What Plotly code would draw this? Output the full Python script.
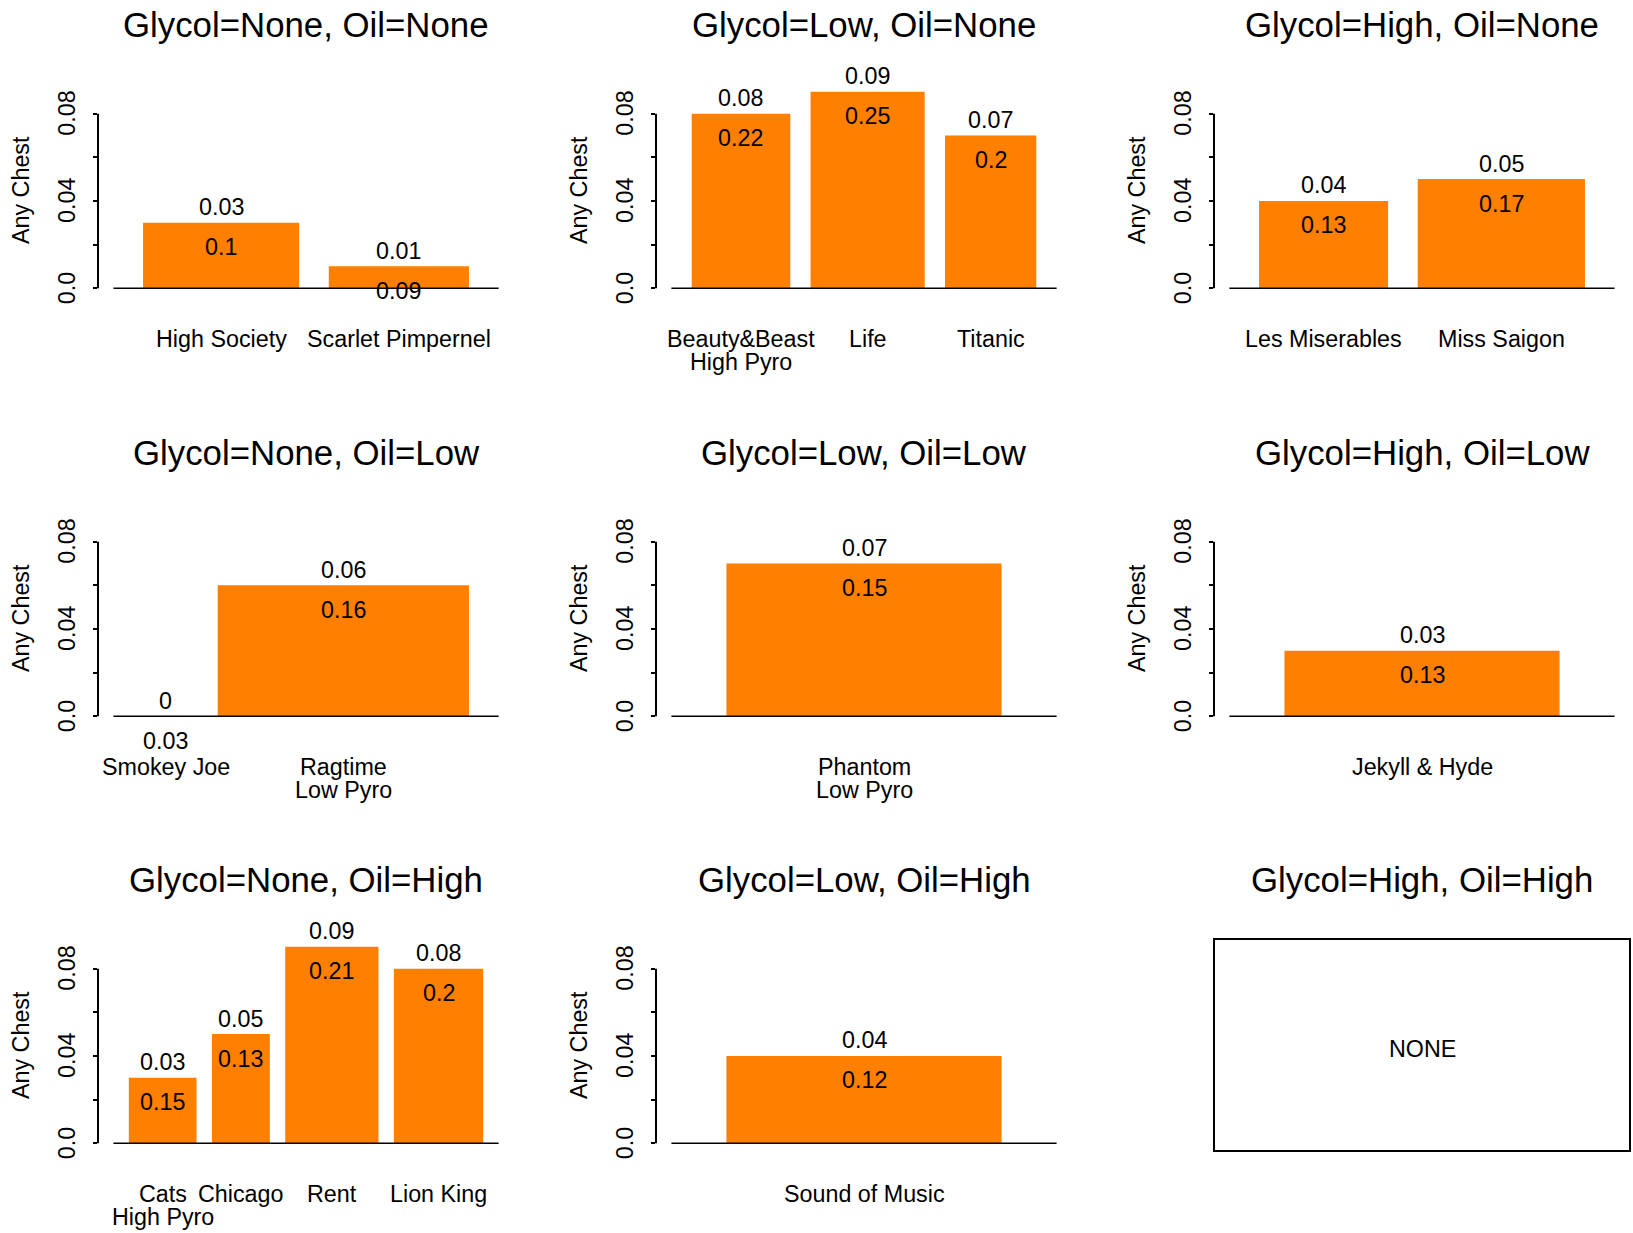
import plotly.graph_objects as go

# ---------------- data ----------------
panel_titles = [
    "Glycol=None, Oil=None", "Glycol=Low, Oil=None", "Glycol=High, Oil=None",
    "Glycol=None, Oil=Low", "Glycol=Low, Oil=Low", "Glycol=High, Oil=Low",
    "Glycol=None, Oil=High", "Glycol=Low, Oil=High", "Glycol=High, Oil=High",
]
panel_shows = [
    ["High Society", "Scarlet Pimpernel"],
    ["Beauty&Beast\nHigh Pyro", "Life", "Titanic"],
    ["Les Miserables", "Miss Saigon"],
    ["Smokey Joe", "Ragtime\nLow Pyro"],
    ["Phantom\nLow Pyro"],
    ["Jekyll & Hyde"],
    ["Cats\nHigh Pyro", "Chicago", "Rent", "Lion King"],
    ["Sound of Music"],
    [],
]
panel_any_chest = [
    [0.03, 0.01],
    [0.08, 0.09, 0.07],
    [0.04, 0.05],
    [0.0, 0.06],
    [0.07],
    [0.03],
    [0.03, 0.05, 0.09, 0.08],
    [0.04],
    [],
]
panel_inner = [
    [0.1, 0.09],
    [0.22, 0.25, 0.2],
    [0.13, 0.17],
    [0.03, 0.16],
    [0.15],
    [0.13],
    [0.15, 0.13, 0.21, 0.2],
    [0.12],
    [],
]
# relative bar widths (sample sizes)
panel_sizes = [
    [157, 141],
    [95, 110, 88],
    [125, 162],
    [45, 251],
    [267],
    [267],
    [69, 59, 95, 91],
    [267],
    [],
]
y_ticks = [0, 0.02, 0.04, 0.06, 0.08]
y_tick_labels = ["0.0", "", "0.04", "", "0.08"]
y_title = "Any Chest"
empty_label = "NONE"

# ---------------- layout / style ----------------
W, H = 1633, 1233
col_left = [98, 656, 1214]
col_right = [514, 1072, 1630]
row_base = [288, 716, 1143]
top_off, bot_off = 204, 8
FONT = "Liberation Sans, Arial, Helvetica, sans-serif"
FS = 23.3
FS_TITLE = 34.8
BAR_COLOR = "#FF7F00"

ymax_all = max(v for vals in panel_any_chest for v in vals)
y_range = [-0.04 * ymax_all, 1.04 * ymax_all]


def fmt(v):
    return "{:g}".format(v)


fig = go.Figure()
annotations = []
shapes = []
layout_axes = {}

for i in range(9):
    r, c = divmod(i, 3)
    x0p, x1p = col_left[c], col_right[c]
    ytop, ybot = row_base[r] - top_off, row_base[r] + bot_off
    xdom = [x0p / W, x1p / W]
    ydom = [1 - ybot / H, 1 - ytop / H]

    # title
    annotations.append(dict(
        text=panel_titles[i], xref="paper", yref="paper",
        x=(x0p + x1p) / 2 / W, y=1 - (row_base[r] - 263.5) / H,
        xanchor="center", yanchor="middle", showarrow=False,
        font=dict(family=FONT, size=FS_TITLE, color="black")))

    sizes = panel_sizes[i]
    if not sizes:
        shapes.append(dict(type="rect", xref="paper", yref="paper",
                           x0=xdom[0], x1=xdom[1], y0=ydom[0], y1=ydom[1],
                           line=dict(color="black", width=2)))
        annotations.append(dict(
            text=empty_label, xref="paper", yref="paper",
            x=(x0p + x1p) / 2 / W, y=1 - (row_base[r] - 94) / H,
            xanchor="center", yanchor="middle", showarrow=False,
            font=dict(family=FONT, size=FS, color="black")))
        continue

    n = i + 1
    xa = "x" if n == 1 else f"x{n}"
    ya = "y" if n == 1 else f"y{n}"
    xkey = "xaxis" if n == 1 else f"xaxis{n}"
    ykey = "yaxis" if n == 1 else f"yaxis{n}"

    # R barplot-style positions: space = 0.2 * mean width
    space = 0.2 * sum(sizes) / len(sizes)
    centers = []
    pos = 0.0
    for w in sizes:
        pos += space
        centers.append(pos + w / 2)
        pos += w
    total = pos + space

    vals = panel_any_chest[i]
    fig.add_trace(go.Bar(
        x=centers, y=vals, width=sizes, xaxis=xa, yaxis=ya,
        marker=dict(color=BAR_COLOR, line=dict(width=0)),
        showlegend=False, hoverinfo="skip"))

    layout_axes[xkey] = dict(domain=xdom, range=[-0.04 * total, 1.04 * total],
                             visible=False, anchor=ya, fixedrange=True)
    layout_axes[ykey] = dict(domain=ydom, range=y_range, anchor=xa,
                             showgrid=False, zeroline=False, showline=False,
                             tickmode="array", tickvals=y_ticks,
                             showticklabels=False, ticks="outside",
                             ticklen=4, tickwidth=2, tickcolor="black",
                             fixedrange=True)

    # y axis line (only between first and last tick) and baseline
    shapes.append(dict(type="line", xref=f"{xa} domain", yref=ya,
                       x0=0, x1=0, y0=y_ticks[0], y1=y_ticks[-1],
                       line=dict(color="black", width=2)))
    shapes.append(dict(type="line", xref=xa, yref=ya,
                       x0=0, x1=total, y0=0, y1=0,
                       line=dict(color="black", width=1.5)))

    # y tick labels
    for tv, tt in zip(y_ticks, y_tick_labels):
        if tt:
            annotations.append(dict(
                text=tt, xref=f"{xa} domain", yref=ya, x=0, y=tv,
                xshift=-31, textangle=-90, xanchor="center", yanchor="middle",
                showarrow=False, font=dict(family=FONT, size=FS, color="black")))
    # y title
    annotations.append(dict(
        text=y_title, xref=f"{xa} domain", yref=f"{ya} domain", x=0, y=0.5,
        xshift=-77, textangle=-90, xanchor="center", yanchor="middle",
        showarrow=False, font=dict(family=FONT, size=FS, color="black")))

    for cx, v, inner, name in zip(centers, vals, panel_inner[i], panel_shows[i]):
        annotations.append(dict(
            text=fmt(v), xref=xa, yref=ya, x=cx, y=v, yshift=15.5,
            xanchor="center", yanchor="middle", showarrow=False,
            font=dict(family=FONT, size=FS, color="black")))
        annotations.append(dict(
            text=fmt(inner), xref=xa, yref=ya, x=cx, y=v, yshift=-24.5,
            xanchor="center", yanchor="middle", showarrow=False,
            font=dict(family=FONT, size=FS, color="black")))
        for k, line in enumerate(name.split("\n")):
            annotations.append(dict(
                text=line, xref=xa, yref=ya, x=cx, y=0, yshift=-51 - 23.3 * k,
                xanchor="center", yanchor="middle", showarrow=False,
                font=dict(family=FONT, size=FS, color="black")))

fig.update_layout(
    width=W, height=H,
    margin=dict(l=0, r=0, t=0, b=0, pad=0),
    paper_bgcolor="white", plot_bgcolor="white",
    font=dict(family=FONT, size=FS, color="black"),
    annotations=annotations, shapes=shapes,
    showlegend=False,
    **layout_axes,
)

fig.write_html("out.html", config={"displayModeBar": False},
               post_script="document.body.style.margin='0';document.body.style.overflow='hidden';")
